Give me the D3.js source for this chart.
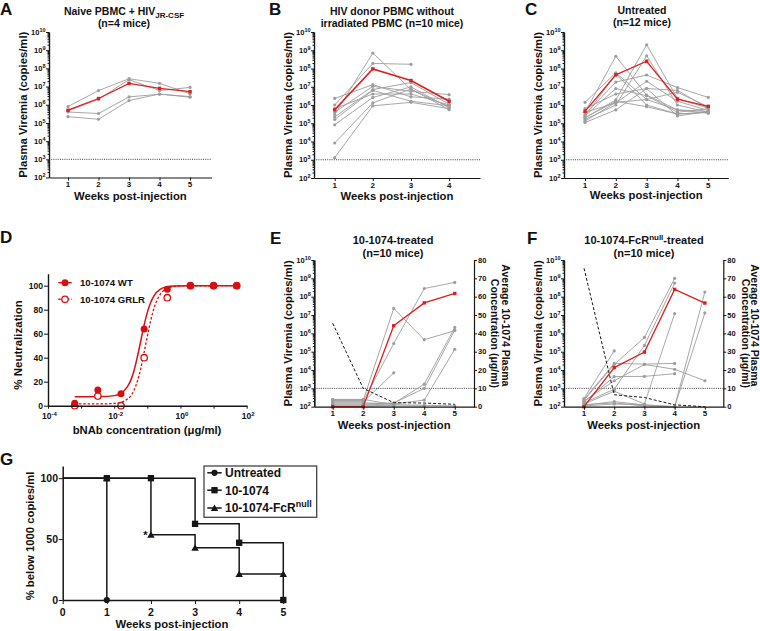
<!DOCTYPE html>
<html><head><meta charset="utf-8">
<script src="https://cdn.jsdelivr.net/npm/d3@7"></script>
<style>
body{margin:0;background:#fff}
svg{display:block}
text{font-family:"Liberation Sans",Arial,Helvetica,sans-serif;font-weight:bold;fill:#111}
</style>
</head><body>
<svg id="c" width="760" height="631"></svg>
<script>
// ---------------- DATA ----------------
// Panels A-C, E, F: plasma viremia (copies/ml) per mouse and per week; red = mean
const weeksA = [1, 2, 3, 4, 5];
const aMean = [5e5, 2.2e6, 1.5e7, 8e6, 5.2e6];
const aMice = [
  [8e5, 6e6, 2.7e7, 1.5e7, 4e6],
  [4.5e5, 2e6, 2.4e7, 6e6, 9e6],
  [4e5, 3.3e5, 2.7e6, 3.8e6, 2.8e6],
  [2.2e5, 1.6e5, 1.7e6, 3.9e6, 2.6e6]
];

const weeksB = [1, 2, 3, 4];
const bMean = [5.5e5, 9.5e7, 2.2e7, 1.6e6];
const bMice = [
  [3e5, 7e8, 7e6, 8e5],
  [1e6, 1.9e8, 1.7e8, null],
  [2.3e6, 1.3e7, 2.8e6, 2.1e6],
  [4e5, 1.05e7, 5.6e6, 3.7e6],
  [2.2e5, 7e6, 1.7e7, 1.1e6],
  [1.6e5, 6.3e6, 1.6e6, 9e5],
  [8.3e4, 2.6e6, 9.8e6, 7e5],
  [8.3e3, 1.3e6, 7.6e6, 5.5e5],
  [1.3e3, 9e5, 1.4e6, 6.3e5],
  [6.3e5, 4e6, 4e6, 1e6]
];

const weeksC = [1, 2, 3, 4, 5];
const cMean = [4.5e5, 4.5e7, 2.5e8, 2.1e6, 8.5e5];
const cMice = [
  [4e5, 4.7e8, 3.5e6, 5.4e5, 4.4e5],
  [2e5, 1.9e6, 2e9, 2.3e6, 6.6e5],
  [1.6e5, 1e6, 5e8, 1e6, 4e5],
  [1.4e6, 5.8e7, 2e6, 5e6, 8e5],
  [3e5, 1.8e7, 4.4e7, 9e6, 2.6e6],
  [1.1e5, 5.4e5, 8e6, 6.3e6, 6.6e5],
  [1.3e5, 1.4e6, 2e6, 5.4e5, 3.5e5],
  [2.5e5, 5e7, 1e6, 3.2e5, 4e5],
  [6.3e5, 4e6, 8e6, 2.5e5, 4.4e5],
  [4e5, 1.3e6, 2e7, 1.6e6, 5e5],
  [2.5e5, 8e6, 3.2e6, 4e5, 6.3e5],
  [2e5, 1.6e6, 8e5, 3.2e5, 4e5]
];

const weeksE = [1, 2, 3, 4, 5];
const eMean = [100, 100, 2.6e6, 4.6e7, 1.5e8];
const eMice = [
  [220, 220, 2.3e7, 4.5e5, 1.4e6],
  [200, 200, 2.8e5, 2.8e8, 6e8],
  [180, 180, 7e3, null, null],
  [160, 160, 150, 1.7e3, 2.1e6],
  [140, 140, 160, 1e3, 1.5e6],
  [125, 125, 140, 230, 1.35e5],
  [250, 250, 130, 120, 110],
  [110, 110, 120, null, null],
  [235, 235, null, null, null],
  [105, 105, 110, 110, null]
];
const eConc = [45.5, 10, 2.2, 2, 1.3];   // average 10-1074 plasma concentration (ug/ml)

const weeksF = [1, 2, 3, 4, 5];
const fMean = [100, 1.35e4, 9.5e4, 2.5e8, 4.5e7];
const fMice = [
  [280, 1.1e5, null, null, null],
  [250, 2.3e4, 2.1e4, 2.3e4, null],
  [220, 2e4, 6e5, 1e9, null],
  [200, 2.6e3, 2e4, 1.1e4, 2.6e3],
  [180, 4.4e3, 4.5e3, 6.3e3, null],
  [160, 900, 2.2e5, 5.5e8, null],
  [140, 700, 140, 1.2e7, null],
  [120, 190, 125, 100, 1.8e8],
  [110, 140, 125, 100, 1.3e7],
  [130, 160, 110, 100, null]
];
const fConc = [75.5, 6.5, 5, 1, 0];

const logTicks = [1e2, 1e3, 1e4, 1e5, 1e6, 1e7, 1e8, 1e9, 1e10];
const concTicks = [0, 10, 20, 30, 40, 50, 60, 70, 80];

// Panel D: neutralization
const dConc = [0.00064, 0.0032, 0.016, 0.08, 0.4, 2, 10, 50];
const dWT = [2, 13, 10, 64, 97, 100, 100, 100];
const dGRLR = [0, 8, 0, 40, 90, 100, 100, 100];
const dFitConc = [0.00064, 0.004, 0.01, 0.016, 0.025, 0.032, 0.04, 0.05, 0.063, 0.079, 0.1, 0.126, 0.158, 0.25, 0.4, 0.63, 1.6, 50];
const dFitWT   = [7.5, 7.6, 8.4, 10.3, 15.9, 21.5, 29.7, 40.8, 53.8, 66.7, 77.8, 86, 91.6, 97.2, 99.1, 99.7, 100, 100];
const dFitGRLR = [1.5, 1.5, 1.9, 2.8, 5.5, 8.4, 13.1, 20.4, 30.7, 43.8, 57.8, 70.9, 81.1, 93.1, 97.7, 99.3, 99.9, 100];
const dXTicks = [1e-4, 1e-3, 1e-2, 1e-1, 1, 10, 100];
const dXLabels = [[1e-4, "-4"], [1e-2, "-2"], [1, "0"], [100, "2"]];
const dYTicks = [0, 20, 40, 60, 80, 100];

// Panel G: % below 1000 copies/ml
const gWeeks = [0, 1, 2, 3, 4, 5];
const gUntreated = [100, 0];
const gWT = [100, 100, 100, 62.5, 47, 0];
const gFcR = [100, 100, 53.6, 42.9, 21.4, 21.4];
const gYTicks = [0, 50, 100];

// ---------------- DRAWING ----------------
const svg = d3.select("#c");
const RED = "#dc2020";
const GRAY = "#9d9d9d";
const INK = "#161616";

function letter(t, x, y) {
  svg.append("text").attr("x", x).attr("y", y).attr("font-size", 17).text(t);
}
function styleAxis(sel, w) {
  sel.attr("font-size", null).attr("font-family", null);
  sel.select(".domain").attr("stroke", INK).attr("stroke-width", w || 1.2);
  sel.selectAll(".tick line").attr("stroke", INK).attr("stroke-width", 1);
  sel.selectAll(".tick text").remove();
}
function powText(sel, exp, base, sup, dy) {
  sel.append("tspan").text("10");
  sel.append("tspan").attr("font-size", sup).attr("dy", dy).text(exp);
}

function viremiaPanel(c) {
  const x = d3.scaleLinear().domain(c.wdom).range([c.left, c.right]);
  const y = d3.scaleLog().domain([1e2, 1e10]).range([c.bottom, c.top]);
  const g = svg.append("g");
  // limit of detection
  g.append("line").attr("x1", c.left).attr("x2", c.right)
    .attr("y1", y(1e3)).attr("y2", y(1e3))
    .attr("stroke", "#222").attr("stroke-width", 0.9).attr("stroke-dasharray", "1,1.2");

  const line = d3.line().defined(d => d.v != null).x(d => x(d.w)).y(d => y(d.v));
  c.mice.forEach(m => {
    const pts = c.weeks.map((w, i) => ({w, v: m[i]}));
    g.append("path").attr("d", line(pts)).attr("fill", "none")
      .attr("stroke", GRAY).attr("stroke-width", 0.9);
    g.selectAll(null).data(pts.filter(p => p.v != null)).join("circle")
      .attr("cx", p => x(p.w)).attr("cy", p => y(p.v)).attr("r", 1.6).attr("fill", GRAY);
  });

  let yr = null;
  if (c.conc) {
    yr = d3.scaleLinear().domain([0, 80]).range([c.bottom, c.top]);
    const cl = d3.line().x((d, i) => x(c.weeks[i])).y(d => yr(d));
    g.append("path").attr("d", cl(c.conc)).attr("fill", "none")
      .attr("stroke", INK).attr("stroke-width", 1).attr("stroke-dasharray", "3,2");
  }

  const mpts = c.weeks.map((w, i) => ({w, v: c.mean[i]}));
  g.append("path").attr("d", line(mpts)).attr("fill", "none")
    .attr("stroke", RED).attr("stroke-width", c.meanW || 1.3);
  g.selectAll(null).data(mpts).join("rect")
    .attr("x", p => x(p.w) - 1.7).attr("y", p => y(p.v) - 1.7)
    .attr("width", 3.4).attr("height", 3.4).attr("fill", RED);

  // left log axis
  const minor = [];
  for (let e = 2; e < 10; e++) for (let k = 2; k <= 9; k++) minor.push(k * Math.pow(10, e));
  g.append("g").attr("transform", `translate(${c.left},0)`)
    .call(d3.axisLeft(y).tickValues(minor).tickSize(1.5).tickSizeOuter(0).tickFormat(""))
    .call(s => styleAxis(s));
  g.append("g").attr("transform", `translate(${c.left},0)`)
    .call(d3.axisLeft(y).tickValues(logTicks).tickSize(3).tickSizeOuter(0).tickFormat(""))
    .call(s => styleAxis(s));
  g.selectAll(null).data(logTicks).join("text")
    .attr("x", c.left - 3.5).attr("y", d => y(d) + 2.7)
    .attr("text-anchor", "end").attr("font-size", 7.5)
    .each(function(d) { powText(d3.select(this), String(Math.round(Math.log10(d))), 7.5, 5.5, -3); });

  // bottom axis
  g.append("g").attr("transform", `translate(0,${c.bottom})`)
    .call(d3.axisBottom(x).tickValues(c.weeks).tickSize(3).tickSizeOuter(0).tickFormat(""))
    .call(s => styleAxis(s));
  g.selectAll(null).data(c.weeks).join("text")
    .attr("x", d => x(d)).attr("y", c.bottom + 9.5)
    .attr("text-anchor", "middle").attr("font-size", 8).text(d => d);

  if (yr) {
    g.append("g").attr("transform", `translate(${c.right},0)`)
      .call(d3.axisRight(yr).tickValues(concTicks).tickSize(3).tickSizeOuter(0).tickFormat(""))
      .call(s => styleAxis(s));
    g.selectAll(null).data(concTicks).join("text")
      .attr("x", c.right + 4).attr("y", d => yr(d) + 2.7)
      .attr("font-size", 7.5).text(d => d);
    const cy1 = (c.top + c.bottom) / 2;
    g.append("text").attr("transform", `translate(${c.rl1},${cy1 - 8}) rotate(90)`)
      .attr("text-anchor", "middle").attr("font-size", 10.5).text("Average 10-1074 Plasma");
    g.append("text").attr("transform", `translate(${c.rl2},${cy1}) rotate(90)`)
      .attr("text-anchor", "middle").attr("font-size", 10.5).text("Concentration (\u03bcg/ml)");
  }

  // axis titles
  g.append("text").attr("transform", `translate(${c.left - 22},${(c.top + c.bottom) / 2}) rotate(-90)`)
    .attr("text-anchor", "middle").attr("font-size", 11.3).text("Plasma Viremia (copies/ml)");
  g.append("text").attr("x", (c.left + c.right) / 2).attr("y", c.xlabY)
    .attr("text-anchor", "middle").attr("font-size", 11.3).text("Weeks post-injection");

  // panel title
  c.title.forEach((t, i) => {
    const tx = g.append("text").attr("x", c.titleX).attr("y", c.titleY[i])
      .attr("text-anchor", "middle").attr("font-size", c.titleSize);
    t.forEach(part => {
      const ts = tx.append("tspan").text(part.t);
      if (part.fs) ts.attr("font-size", part.fs);
      if (part.dy) ts.attr("dy", part.dy);
    });
  });
}

// A
letter("A", 0, 15.4);
viremiaPanel({left: 49, right: 211.7, top: 32, bottom: 177.5, wdom: [0.377, 5.71],
  weeks: weeksA, mice: aMice, mean: aMean, xlabY: 199.5, titleX: 124, titleY: [14.8, 26.8], titleSize: 10.5,
  title: [[{t: "Naive PBMC + HIV"}, {t: "JR-CSF", fs: 8, dy: 3}], [{t: "(n=4 mice)"}]]});
// B
letter("B", 269, 15.4);
viremiaPanel({left: 314, right: 480, top: 32, bottom: 178, wdom: [0.457, 4.81], meanW: 1.6,
  weeks: weeksB, mice: bMice, mean: bMean, xlabY: 199.5, titleX: 392, titleY: [14.8, 26.8], titleSize: 10.5,
  title: [[{t: "HIV donor PBMC without"}], [{t: "irradiated PBMC (n=10 mice)"}]]});
// C
letter("C", 525, 15.4);
viremiaPanel({left: 564, right: 728.3, top: 32, bottom: 178, wdom: [0.318, 5.65],
  weeks: weeksC, mice: cMice, mean: cMean, xlabY: 199, titleX: 642, titleY: [13.8, 25.8], titleSize: 10.5,
  title: [[{t: "Untreated"}], [{t: "(n=12 mice)"}]]});
// E
letter("E", 270, 244);
viremiaPanel({left: 314.3, right: 474, top: 260, bottom: 406.7, wdom: [0.397, 5.63],
  weeks: weeksE, mice: eMice, mean: eMean, conc: eConc, rl1: 502, rl2: 490.5,
  xlabY: 428.5, titleX: 393, titleY: [244.3, 256.7], titleSize: 11,
  title: [[{t: "10-1074-treated"}], [{t: "(n=10 mice)"}]]});
// F
letter("F", 527, 244);
viremiaPanel({left: 564, right: 723.3, top: 260, bottom: 406.7, wdom: [0.338, 5.61],
  weeks: weeksF, mice: fMice, mean: fMean, conc: fConc, rl1: 751, rl2: 741.5,
  xlabY: 428.5, titleX: 644, titleY: [244.3, 256.7], titleSize: 11,
  title: [[{t: "10-1074-FcR"}, {t: "null", fs: 8, dy: -4}, {t: "-treated", fs: 11, dy: 4}], [{t: "(n=10 mice)"}]]});

// ---------------- D ----------------
(function() {
  letter("D", 0, 243);
  const x = d3.scaleLog().domain([1e-4, 1e2]).range([48, 246.7]);
  const y = d3.scaleLinear().domain([0, 110]).range([405.7, 273.7]);
  const g = svg.append("g");
  const DRED = "#d61010";
  const fit = d3.line().x(d => x(d[0])).y(d => y(d[1])).curve(d3.curveMonotoneX);
  g.append("path").attr("d", fit(dFitConc.map((c, i) => [c, dFitGRLR[i]])))
    .attr("fill", "none").attr("stroke", DRED).attr("stroke-width", 1.3).attr("stroke-dasharray", "2.5,1.8");
  g.append("path").attr("d", fit(dFitConc.map((c, i) => [c, dFitWT[i]])))
    .attr("fill", "none").attr("stroke", DRED).attr("stroke-width", 1.5);
  g.selectAll(null).data(dConc.map((c, i) => [c, dGRLR[i]])).join("circle")
    .attr("cx", d => x(d[0])).attr("cy", d => y(d[1])).attr("r", 3.2)
    .attr("fill", "#fff").attr("stroke", DRED).attr("stroke-width", 1.3);
  g.selectAll(null).data(dConc.map((c, i) => [c, dWT[i]])).join("circle")
    .attr("cx", d => x(d[0])).attr("cy", d => y(d[1])).attr("r", 3.5).attr("fill", DRED);

  g.append("g").attr("transform", "translate(48,0)")
    .call(d3.axisLeft(y).tickValues(dYTicks).tickSize(4).tickSizeOuter(0).tickFormat(""))
    .call(s => styleAxis(s, 1.4));
  g.selectAll(null).data(dYTicks).join("text")
    .attr("x", 43).attr("y", d => y(d) + 3).attr("text-anchor", "end").attr("font-size", 8.6).text(d => d);
  g.append("g").attr("transform", "translate(0,405.7)")
    .call(d3.axisBottom(x).tickValues(dXTicks).tickSize(3).tickSizeOuter(0).tickFormat(""))
    .call(s => styleAxis(s, 1.4));
  g.selectAll(null).data(dXLabels).join("text")
    .attr("x", d => x(d[0]) + 1.5).attr("y", 419).attr("text-anchor", "middle").attr("font-size", 8.5)
    .each(function(d) { powText(d3.select(this), d[1], 8.5, 6, -3.5); });
  g.append("text").attr("x", 147).attr("y", 434).attr("text-anchor", "middle").attr("font-size", 11.3)
    .text("bNAb concentration (\u03bcg/ml)");
  g.append("text").attr("transform", "translate(22,345) rotate(-90)").attr("text-anchor", "middle")
    .attr("font-size", 11.5).text("% Neutralization");
  // legend
  const lg = [{t: "10-1074 WT", y: 282.7, dash: null, open: false}, {t: "10-1074 GRLR", y: 299.3, dash: "2.5,1.8", open: true}];
  lg.forEach(l => {
    g.append("line").attr("x1", 58.3).attr("x2", 71.7).attr("y1", l.y).attr("y2", l.y)
      .attr("stroke", DRED).attr("stroke-width", 1.4).attr("stroke-dasharray", l.dash);
    g.append("circle").attr("cx", 65).attr("cy", l.y).attr("r", l.open ? 3.2 : 3.5)
      .attr("fill", l.open ? "#fff" : DRED).attr("stroke", DRED).attr("stroke-width", l.open ? 1.3 : 0);
    g.append("text").attr("x", 80).attr("y", l.y + 3.4).attr("font-size", 9.6).text(l.t);
  });
})();

// ---------------- G ----------------
(function() {
  letter("G", 0, 465);
  const x = d3.scaleLinear().domain([0, 5]).range([62.7, 283.3]);
  const y = d3.scaleLinear().domain([0, 110]).range([600, 466]);
  const g = svg.append("g");
  const step = d3.line().x(d => x(d[0])).y(d => y(d[1])).curve(d3.curveStepAfter);
  const series = [
    {vals: gFcR, sym: d3.symbolTriangle, size: 24},
    {vals: gWT, sym: d3.symbolSquare, size: 40},
    {vals: gUntreated, sym: d3.symbolCircle, size: 30}
  ];
  series.forEach(s => {
    const pts = s.vals.map((v, i) => [gWeeks[i], v]);
    g.append("path").attr("d", step(pts)).attr("fill", "none").attr("stroke", INK).attr("stroke-width", 1.5);
  });
  // markers (weeks >= 1)
  [series[0], series[2], series[1]].forEach(s => {
    const pts = s.vals.map((v, i) => [gWeeks[i], v]).filter(p => p[0] >= 1);
    g.selectAll(null).data(pts).join("path")
      .attr("d", d3.symbol().type(s.sym).size(s.size))
      .attr("transform", p => `translate(${x(p[0])},${y(p[1]) + (s.sym === d3.symbolTriangle ? 0.8 : 0)})`)
      .attr("fill", INK);
  });
  g.append("text").attr("x", 145.5).attr("y", 538.5).attr("text-anchor", "middle").attr("font-size", 11).text("*");

  g.append("g").attr("transform", "translate(62.7,0)")
    .call(d3.axisLeft(y).tickValues(gYTicks).tickSize(4).tickSizeOuter(0).tickFormat(""))
    .call(s => styleAxis(s, 1.5));
  g.selectAll(null).data(gYTicks).join("text")
    .attr("x", 58).attr("y", d => y(d) + 3.7).attr("text-anchor", "end").attr("font-size", 10.5).text(d => d);
  g.append("g").attr("transform", "translate(0,600)")
    .call(d3.axisBottom(x).tickValues(gWeeks).tickSize(4).tickSizeOuter(0).tickFormat(""))
    .call(s => styleAxis(s, 1.5));
  g.selectAll(null).data(gWeeks).join("text")
    .attr("x", d => x(d)).attr("y", 615.5).attr("text-anchor", "middle").attr("font-size", 10.5).text(d => d);
  g.append("text").attr("x", 172).attr("y", 628).attr("text-anchor", "middle").attr("font-size", 11.3)
    .text("Weeks post-injection");
  g.append("text").attr("transform", "translate(34,536) rotate(-90)").attr("text-anchor", "middle")
    .attr("font-size", 11.3).text("% below 1000 copies/ml");

  // legend
  g.append("rect").attr("x", 204).attr("y", 466).attr("width", 112.7).attr("height", 51.3)
    .attr("fill", "#fff").attr("stroke", "#444").attr("stroke-width", 1.3);
  const leg = [
    {t: "Untreated", sym: d3.symbolCircle, size: 30, y: 472.8},
    {t: "10-1074", sym: d3.symbolSquare, size: 40, y: 490.2},
    {t: "10-1074-FcR", sup: "null", sym: d3.symbolTriangle, size: 24, y: 508}
  ];
  leg.forEach(l => {
    g.append("line").attr("x1", 207.3).attr("x2", 221.7).attr("y1", l.y).attr("y2", l.y)
      .attr("stroke", INK).attr("stroke-width", 1.5);
    g.append("path").attr("d", d3.symbol().type(l.sym).size(l.size)).attr("fill", INK)
      .attr("transform", `translate(214.5,${l.y + (l.sym === d3.symbolTriangle ? 0.8 : 0)})`);
    const t = g.append("text").attr("x", 225).attr("y", l.y + 4.3).attr("font-size", 12);
    t.append("tspan").text(l.t);
    if (l.sup) t.append("tspan").attr("font-size", 9).attr("dy", -5).text(l.sup);
  });
})();
</script>
</body></html>
